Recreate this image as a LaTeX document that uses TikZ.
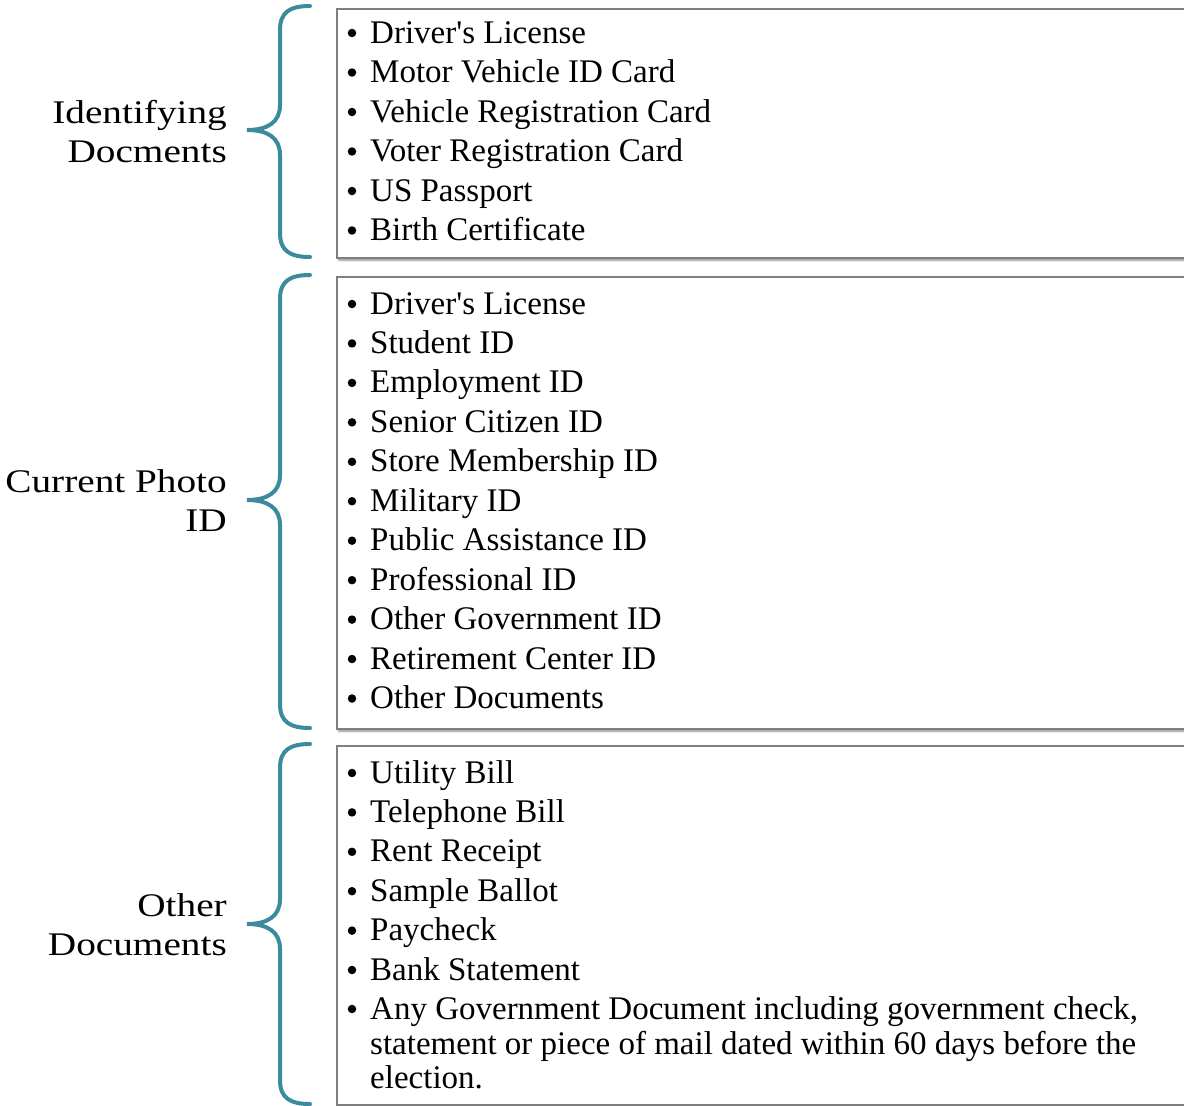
\documentclass[tikz,border=0pt]{standalone}
\usepackage{fontspec}
\setmainfont{Liberation Serif}[Ligatures=TeXOff]
\usetikzlibrary{shadows.blur}
\definecolor{bracecol}{HTML}{3B8A9E}
\definecolor{boxline}{HTML}{7F7F7F}
\begin{document}
\begin{tikzpicture}[x=1pt,y=-1pt,
  every node/.style={font=\fontsize{33}{39.5}\selectfont},
  listbox/.style={draw=boxline,line width=1.5pt,fill=white,anchor=north west,inner sep=0pt,
    blur shadow={shadow xshift=2pt,shadow yshift=-2.5pt,shadow blur steps=6,shadow opacity=45}},
  itemtxt/.style={anchor=base west,inner sep=0pt},
  bul/.style={circle,fill=black,inner sep=0pt,minimum size=8.5pt},
  lbl/.style={anchor=base east,inner sep=0pt,font=\fontsize{33}{39.5}\selectfont\addfontfeature{FakeStretch=1.19}},
  brace/.style={draw=bracecol,line width=4pt,line cap=round}]
\useasboundingbox (0,0) rectangle (1184,1106);
% boxes
\node[listbox,minimum width=860pt,minimum height=249pt] (b1) at (336,8) {};
\node[listbox,minimum width=860pt,minimum height=452pt] (b2) at (336,276) {};
\node[listbox,minimum width=860pt,minimum height=359pt] (b3) at (336,745) {};
% braces
\foreach \t/\m/\b in {6/130/257, 275/500/728, 744/924/1104}{
  \draw[brace] (310,\t) .. controls (290,\t) and (280,\t+6) .. (280,\t+24)
    -- (280,\m-25) .. controls (280,\m-8) and (268,\m) .. (247,\m)
    .. controls (268,\m) and (280,\m+8) .. (280,\m+25)
    -- (280,\b-24) .. controls (280,\b-6) and (290,\b) .. (310,\b);
}
% labels
\node[lbl] (l1a) at (227,123) {Identifying};
\node[lbl] (l1b) at (227,162) {Docments};
\node[lbl] (l2a) at (227,492) {Current Photo};
\node[lbl] (l2b) at (227,531) {ID};
\node[lbl] (l3a) at (227,916) {Other};
\node[lbl] (l3b) at (227,955) {Documents};
% box 1 items
\foreach \t [count=\i] in {Driver's License,Motor Vehicle ID Card,Vehicle Registration Card,Voter Registration Card,US Passport,Birth Certificate}{
  \node[bul] (pa\i) at (352,{43+39.5*(\i-1)-10}) {};
  \node[itemtxt] (ta\i) at (370,{43+39.5*(\i-1)}) {\t};
}
% box 2 items
\foreach \t [count=\i] in {Driver's License,Student ID,Employment ID,Senior Citizen ID,Store Membership ID,Military ID,Public Assistance ID,Professional ID,Other Government ID,Retirement Center ID,Other Documents}{
  \node[bul] (pb\i) at (352,{314+39.45*(\i-1)-10}) {};
  \node[itemtxt] (tb\i) at (370,{314+39.45*(\i-1)}) {\t};
}
% box 3 items
\foreach \t [count=\i] in {Utility Bill,Telephone Bill,Rent Receipt,Sample Ballot,Paycheck,Bank Statement}{
  \node[bul] (pc\i) at (352,{783+39.4*(\i-1)-10}) {};
  \node[itemtxt] (tc\i) at (370,{783+39.4*(\i-1)}) {\t};
}
\node[bul] (pc7) at (352,1009) {};
\node[itemtxt] (tc7) at (370,1019) {Any Government Document including government check,};
\node[itemtxt] (tc8) at (370,1054) {statement or piece of mail dated within 60 days before the};
\node[itemtxt] (tc9) at (370,1088) {election.};
\end{tikzpicture}
\end{document}
